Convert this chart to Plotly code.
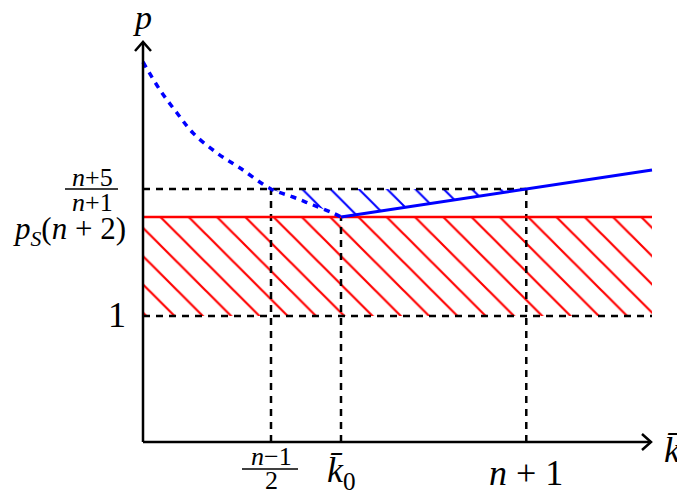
import plotly.graph_objects as go

# ---- data (abstract diagram units) ----
k_half = 2.56      # (n-1)/2
k0 = 3.96          # k̄0
k_n1 = 7.6         # n+1
k_end = 10.18      # right end of curves
p_one = 2.52       # 1
p_S = 4.5          # p_S(n+2)
p_frac = 5.06      # (n+5)/(n+1)
p_end = 5.44       # blue line value at k_end
x_axis_end = 10.16
y_axis_end = 8.0

curve_x = [0, 0.34, 0.68, 1.0, 1.48, 1.94, 2.56, 3.0, 3.4, 3.8, 3.96]
curve_y = [7.6, 7.04, 6.58, 6.18, 5.78, 5.48, 5.06, 4.9, 4.74, 4.58, 4.5]

SC = 50.0  # px per unit
OFF = 8    # page body margin of the browser
OX, OY = 143, 442
W, H = 685, 493
FW, FH = W - OFF, H - OFF

def px(x):
    return (x - OX) / SC

def py(y):
    return (OY - y) / SC

fig = go.Figure()

# red hatched band
fig.add_trace(go.Scatter(
    x=[0, k_end, k_end, 0, 0], y=[p_one, p_one, p_S, p_S, p_one],
    mode="lines", line=dict(width=0, color="rgba(0,0,0,0)"), fill="toself",
    fillcolor="rgba(0,0,0,0)",
    fillpattern=dict(shape="\\", size=20, solidity=0.11, fgcolor="red",
                     bgcolor="rgba(0,0,0,0)", fgopacity=1),
    hoverinfo="skip", showlegend=False))

# blue hatched region
slope = (p_end - p_S) / (k_end - k0)
k_cross = k0 + (p_frac - p_S) / slope
poly_x = [k_half, k_cross, k0]
poly_y = [p_frac, p_frac, p_S]
for cx, cy in reversed(list(zip(curve_x, curve_y))):
    if k_half <= cx < k0:
        poly_x.append(cx)
        poly_y.append(cy)
poly_x.append(k_half)
poly_y.append(p_frac)
fig.add_trace(go.Scatter(
    x=poly_x, y=poly_y, mode="lines", line=dict(width=0, color="rgba(0,0,0,0)"),
    fill="toself", fillcolor="rgba(0,0,0,0)",
    fillpattern=dict(shape="\\", size=20, solidity=0.1, fgcolor="blue",
                     bgcolor="rgba(0,0,0,0)", fgopacity=1),
    hoverinfo="skip", showlegend=False))

dash = "7px,6px"
blk = dict(color="black", width=2.5, dash=dash)
def seg(xs, ys, line):
    fig.add_trace(go.Scatter(x=xs, y=ys, mode="lines", line=line,
                             hoverinfo="skip", showlegend=False))

# dashed guides
seg([0, k_cross], [p_frac, p_frac], blk)
seg([0, k_end], [p_one, p_one], blk)
seg([k_half, k_half], [0, p_frac], blk)
seg([k0, k0], [0, p_S], blk)
seg([k_cross, k_cross], [0, p_frac], blk)

# red line
seg([0, k_end], [p_S, p_S], dict(color="red", width=2.5))
# blue dotted curve
seg(curve_x, curve_y, dict(color="blue", width=3.5, dash="6px,6px", shape="spline"))
# blue line
seg([k0, k_end], [p_S, p_end], dict(color="blue", width=3))

# axes
ax = dict(color="black", width=2.5)
seg([0, x_axis_end], [0, 0], ax)
seg([0, 0], [0, y_axis_end], ax)
ah = 9 / SC
aw = 8 / SC
seg([x_axis_end - ah, x_axis_end, x_axis_end - ah], [aw, 0, -aw], ax)
seg([-aw, 0, aw], [y_axis_end - ah, y_axis_end, y_axis_end - ah], ax)

FONT = "Liberation Serif"
def txt(x, y, s, size, xanchor="center", yanchor="middle"):
    fig.add_annotation(x=x, y=y, xref="x", yref="y", text=s, showarrow=False,
                       font=dict(family=FONT, size=size, color="black"),
                       xanchor=xanchor, yanchor=yanchor)

def bar(x0, x1, y):
    fig.add_shape(type="line", x0=x0, x1=x1, y0=y, y1=y, xref="x", yref="y",
                  line=dict(color="black", width=1.5))

# axis labels
txt(px(142), py(17), "<i>p</i>", 34)
txt(px(672), py(450), "<i>k̄</i>", 36)

# y labels
txt(px(92), py(177), "<i>n</i>+5", 26)
bar(px(65), px(118), p_frac)
txt(px(92), py(202), "<i>n</i>+1", 26)
txt(px(128), py(231), "<i>p<sub>S</sub></i>(<i>n</i> + 2)", 31, xanchor="right")
txt(px(128), py(315), "1", 36, xanchor="right")

# x labels
txt(k_half, py(456), "<i>n</i>−1", 26)
bar(px(242), px(298), py(469))
txt(k_half, py(480), "2", 26)
txt(k0, py(472), "<i>k̄</i><sub>0</sub>", 36)
txt(k_cross, py(473), "<i>n</i> + 1", 36)

fig.update_layout(
    width=FW, height=FH, margin=dict(l=0, r=0, t=0, b=0),
    plot_bgcolor="white", paper_bgcolor="white", showlegend=False,
    xaxis=dict(range=[px(OFF), px(W)], visible=False, fixedrange=True),
    yaxis=dict(range=[py(H), py(OFF)], visible=False, fixedrange=True),
)
fig.write_html("out.html")
